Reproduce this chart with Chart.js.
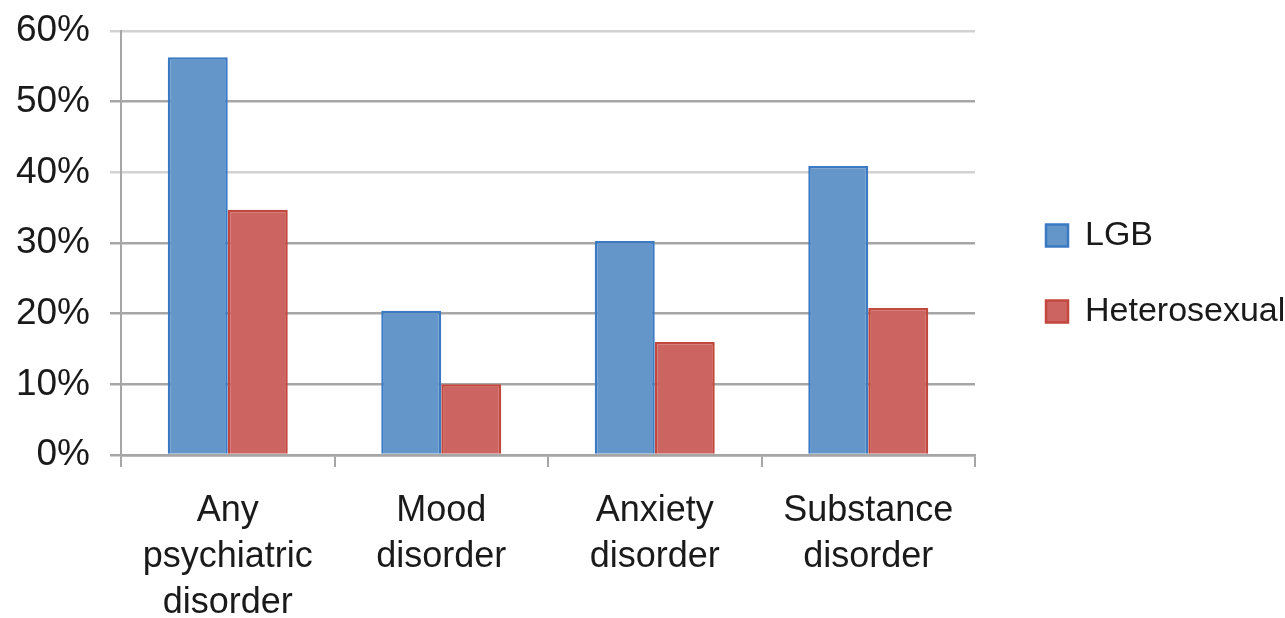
<!DOCTYPE html>
<html>
<head>
<meta charset="utf-8">
<script src="https://cdn.jsdelivr.net/npm/chart.js@4"></script>
<style>
  html, body { margin: 0; padding: 0; background: #ffffff; }
  #wrap { width: 1285px; height: 618px; }
</style>
</head>
<body>
<div id="wrap"><canvas id="c" width="1285" height="618"></canvas></div>
<script>
// Prevalence of psychiatric disorders by sexual orientation (%)
const categories = [
  ["Any", "psychiatric", "disorder"],
  ["Mood", "disorder"],
  ["Anxiety", "disorder"],
  ["Substance", "disorder"]
];
const seriesNames = ["LGB", "Heterosexual"];
const lgbValues = [56.3, 20.4, 30.3, 40.9];
const heteroValues = [34.7, 10.0, 16.0, 20.8];
const yTicks = [0, 10, 20, 30, 40, 50, 60];

const FONT = "'Liberation Sans', Arial, sans-serif";
const GRID = '#a6a6a6';
const GRID_LIGHT = '#d2d2d2';

// Legend column: fixed width, items nudged right/up inside it
const LEGEND_WIDTH = 310;
const LEGEND_SHIFT = { x: 29, y: -51 };
const legendPlacement = {
  id: 'legendPlacement',
  afterInit(chart) {
    const lg = chart.legend;
    if (!lg) return;
    const fit = lg.fit;
    lg.fit = function () { fit.call(this); this.width = LEGEND_WIDTH; };
    const draw = lg.draw;
    lg.draw = function () {
      const ctx = this.ctx;
      ctx.save();
      ctx.translate(LEGEND_SHIFT.x, LEGEND_SHIFT.y);
      draw.call(this);
      ctx.restore();
    };
  }
};

new Chart(document.getElementById('c'), {
  type: 'bar',
  data: {
    labels: categories,
    datasets: [
      {
        label: seriesNames[0],
        data: lgbValues,
        backgroundColor: '#6496c9',
        borderColor: '#3a7ac2',
        borderWidth: 2.5,
        borderSkipped: 'bottom'
      },
      {
        label: seriesNames[1],
        data: heteroValues,
        backgroundColor: '#cc6561',
        borderColor: '#c2473d',
        borderWidth: 2.5,
        borderSkipped: 'bottom'
      }
    ]
  },
  plugins: [legendPlacement],
  options: {
    responsive: false,
    animation: false,
    devicePixelRatio: 1,
    layout: { padding: { left: 0, right: 0, top: 31, bottom: 0 } },
    plugins: {
      tooltip: { enabled: false },
      legend: {
        position: 'right',
        align: 'center',
        labels: {
          font: { family: FONT, size: 34 },
          color: '#1a1a1a',
          boxWidth: 22,
          boxHeight: 22,
          padding: 42
        }
      }
    },
    datasets: {
      bar: { barPercentage: 1.0, categoryPercentage: 0.562 }
    },
    scales: {
      x: {
        grid: {
          offset: true,
          drawOnChartArea: false,
          drawTicks: true,
          tickLength: 12,
          color: GRID,
          lineWidth: 2
        },
        border: { display: true, color: GRID, width: 2.5 },
        ticks: {
          font: { family: FONT, size: 36, lineHeight: 1.28 },
          color: '#1a1a1a',
          padding: 21,
          maxRotation: 0,
          autoSkip: false
        },
        afterFit(scale) { scale.height = 163; }
      },
      y: {
        min: 0,
        max: 60,
        afterBuildTicks(scale) { scale.ticks = yTicks.map(v => ({ value: v })); },
        grid: {
          drawTicks: true,
          tickLength: 11,
          lineWidth: 2.5,
          color(ctx) {
            const v = ctx.tick ? ctx.tick.value : 0;
            return (v === 60 || v === 40) ? GRID_LIGHT : GRID;
          }
        },
        border: { display: true, color: GRID, width: 2 },
        ticks: {
          font: { family: FONT, size: 37 },
          color: '#1a1a1a',
          padding: 20,
          callback: v => v + '%'
        },
        afterFit(scale) {
          scale.width = 121;
          scale.paddingTop = 0;
          scale.paddingBottom = 0;
        }
      }
    }
  }
});
</script>
</body>
</html>
